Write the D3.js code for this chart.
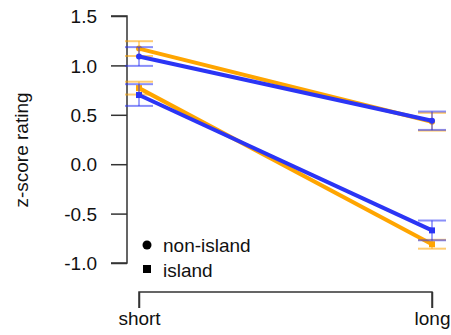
<!DOCTYPE html>
<html>
<head>
<meta charset="utf-8">
<script src="https://cdn.jsdelivr.net/npm/d3@7"></script>
<style>
body { margin: 0; background: #fff; }
text { font-family: "Liberation Sans", Arial, sans-serif; fill: #111; }
</style>
</head>
<body>
<svg id="chart" width="451" height="335"></svg>
<script>
const conditions = ['short', 'long'];
const yTicks = [-1.0, -0.5, 0.0, 0.5, 1.0, 1.5];

// means and half-widths of error bars, per group
const orangeNonIsland = [1.17, 0.43];
const orangeNonIslandErr = [0.075, 0.09];
const blueNonIsland = [1.09, 0.44];
const blueNonIslandErr = [0.095, 0.093];
const orangeIsland = [0.77, -0.81];
const orangeIslandErr = [0.065, 0.045];
const blueIsland = [0.70, -0.67];
const blueIslandErr = [0.11, 0.10];

const legendLabels = ['non-island', 'island'];

const svg = d3.select('#chart');
const x = d3.scalePoint().domain(conditions).range([139, 432]);
const y = d3.scaleLinear().domain([-1.0, 1.5]).range([263, 16]);

const orange = '#ffa500';
const blue = '#2b35f5';

const series = [
    {vals: orangeNonIsland, err: orangeNonIslandErr, color: orange, shape: 'circle'},
    {vals: orangeIsland, err: orangeIslandErr, color: orange, shape: 'square'},
    {vals: blueNonIsland, err: blueNonIslandErr, color: blue, shape: 'circle'},
    {vals: blueIsland, err: blueIslandErr, color: blue, shape: 'square'}
];

// y axis
const yAxis = svg.append('g')
    .attr('transform', 'translate(127,0)')
    .call(d3.axisLeft(y).tickValues(yTicks).tickSize(16).tickPadding(14).tickFormat(d3.format('.1f')));
yAxis.selectAll('text').style('font-size', '19px').attr('dy', '0.35em').text(d => d3.format('.1f')(d).replace('−', '-'));
yAxis.select('.domain').attr('d', 'M-16,16H0V263H-16');
yAxis.selectAll('line, path').attr('stroke', '#333').attr('stroke-width', 1.5);

// x axis
const xAxis = svg.append('g')
    .attr('transform', 'translate(0,292)')
    .call(d3.axisBottom(x).tickSize(16).tickPadding(4).tickSizeOuter(0));
xAxis.select('.domain').attr('d', 'M139,16V0H432V16');
xAxis.selectAll('text').style('font-size', '19px');
xAxis.selectAll('line, path').attr('stroke', '#333').attr('stroke-width', 1.5);

svg.append('text')
    .attr('transform', 'translate(28,150) rotate(-90)')
    .attr('text-anchor', 'middle')
    .style('font-size', '19px')
    .text('z-score rating');

// error bars, lines, points
series.forEach(s => {
    const g = svg.append('g');
    conditions.forEach((c, i) => {
        const cx = x(c);
        const lo = y(s.vals[i] - s.err[i]);
        const hi = y(s.vals[i] + s.err[i]);
        g.append('line').attr('x1', cx).attr('x2', cx).attr('y1', lo).attr('y2', hi)
            .attr('stroke', s.color).attr('stroke-width', 1.5).attr('opacity', 0.6);
        [lo, hi].forEach(yy => {
            g.append('line').attr('x1', cx - 14).attr('x2', cx + 14).attr('y1', yy).attr('y2', yy)
                .attr('stroke', s.color).attr('stroke-width', 2).attr('opacity', 0.55);
        });
    });
    g.append('path')
        .datum(s.vals)
        .attr('fill', 'none')
        .attr('stroke', s.color)
        .attr('stroke-width', 4)
        .attr('d', d3.line().x((d, i) => x(conditions[i])).y(d => y(d)));
    s.vals.forEach((v, i) => {
        if (s.shape === 'circle') {
            g.append('circle').attr('cx', x(conditions[i])).attr('cy', y(v)).attr('r', 3).attr('fill', s.color);
        } else {
            g.append('rect').attr('x', x(conditions[i]) - 3).attr('y', y(v) - 3)
                .attr('width', 6).attr('height', 6).attr('fill', s.color);
        }
    });
});

// legend
const legend = svg.append('g');
legend.append('circle').attr('cx', 147).attr('cy', 245).attr('r', 4.5).attr('fill', '#000');
legend.append('rect').attr('x', 143).attr('y', 265).attr('width', 8).attr('height', 8).attr('fill', '#000');
legend.selectAll('text.leg')
    .data(legendLabels)
    .enter()
    .append('text')
    .attr('class', 'leg')
    .attr('x', 163)
    .attr('y', (d, i) => 252 + i * 25)
    .style('font-size', '19px')
    .text(d => d);
</script>
</body>
</html>
